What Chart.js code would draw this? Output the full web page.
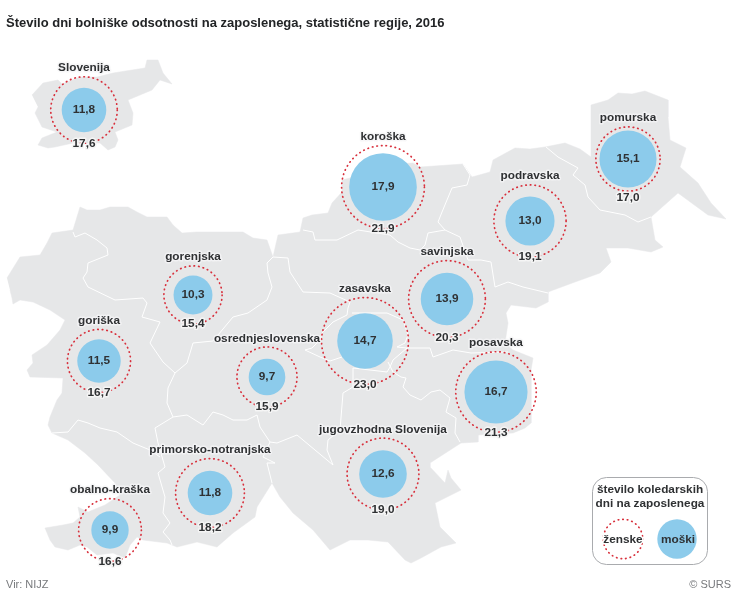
<!DOCTYPE html>
<html lang="sl">
<head>
<meta charset="utf-8">
<style>html,body{margin:0;padding:0;background:#fff}canvas{display:block}</style>
<script src="https://cdn.jsdelivr.net/npm/chart.js@4/dist/chart.umd.min.js"></script>
</head>
<body>
<canvas id="c" width="736" height="599"></canvas>
<script>
const titleText = 'Število dni bolniške odsotnosti na zaposlenega, statistične regije, 2016';
const regions = ['Slovenija','koroška','pomurska','podravska','savinjska','zasavska','posavska','jugovzhodna Slovenija','gorenjska','goriška','osrednjeslovenska','primorsko-notranjska','obalno-kraška'];
const menDays   = [11.8,17.9,15.1,13.0,13.9,14.7,16.7,12.6,10.3,11.5,9.7,11.8,9.9];
const womenDays = [17.6,21.9,17.0,19.1,20.3,23.0,21.3,19.0,15.4,16.7,15.9,18.2,16.6];
const regionX = [84,383,628,530,447,365,496,383,193,99,267,210,110];
const regionY = [110,187,159,221,299,341,392,474,295,361,377,493,530];
const sourceText = 'Vir: NIJZ';
const creditText = '© SURS';
const legendTitle = ['število koledarskih','dni na zaposlenega'];
const legendWomen = 'ženske';
const legendMen = 'moški';

const insetMap = [[32,95],[43,83],[58,80],[62,84],[80,77],[97,77],[113,73],[132,70],[145,68],[147,60],[158,60],[163,73],[172,84],[160,80],[152,90],[128,100],[133,113],[132,125],[115,132],[118,140],[115,147],[108,150],[100,143],[73,143],[55,147],[48,148],[38,145],[42,138],[57,132],[42,127],[35,113],[38,107]];
const mainMap = [[7,278],[20,257],[40,255],[47,243],[52,233],[73,230],[80,207],[87,210],[100,210],[110,207],[128,207],[137,212],[147,217],[167,217],[173,225],[182,233],[197,232],[213,232],[243,232],[253,238],[267,240],[273,257],[278,235],[300,232],[303,218],[312,215],[328,213],[332,203],[342,192],[342,180],[350,178],[380,165],[413,163],[420,167],[463,164],[472,177],[490,172],[493,160],[515,148],[530,149],[545,147],[565,143],[580,149],[591,157],[591,127],[591,105],[608,100],[618,93],[632,94],[645,91],[668,100],[668,117],[670,140],[686,148],[680,167],[698,183],[711,203],[726,219],[708,215],[678,193],[651,217],[655,240],[663,247],[651,252],[628,248],[606,248],[611,262],[600,273],[575,282],[548,292],[548,302],[536,308],[511,305],[506,313],[508,323],[505,343],[513,350],[533,358],[531,370],[531,423],[525,428],[513,433],[478,435],[478,442],[461,443],[430,463],[430,467],[445,483],[448,470],[451,478],[461,490],[435,503],[440,527],[456,543],[441,547],[421,558],[411,563],[405,560],[388,542],[368,540],[350,540],[330,550],[313,530],[293,513],[280,497],[272,483],[257,507],[255,517],[233,533],[217,547],[197,542],[177,547],[167,543],[143,540],[137,537],[130,545],[125,558],[113,553],[97,555],[87,547],[80,545],[68,550],[55,547],[50,540],[45,528],[63,525],[73,523],[80,517],[78,507],[88,512],[105,505],[120,495],[115,483],[98,465],[85,453],[68,440],[52,433],[48,425],[50,417],[57,400],[62,393],[63,378],[30,377],[27,370],[33,363],[32,355],[47,345],[60,330],[65,320],[50,310],[33,302],[20,300],[13,304],[12,298],[10,290]];
const borderLines = [
 [[73,232],[75,237],[85,233],[97,240],[107,248],[108,255],[88,263],[87,272],[83,278],[88,287],[115,300],[143,298],[147,303],[142,317],[160,322],[150,343],[163,362],[175,373],[168,388],[167,403],[173,417],[155,428],[158,443],[165,467],[158,473],[165,497],[163,513],[170,523],[163,532],[170,540],[172,545]],
 [[52,433],[68,432],[78,420],[88,423],[100,428],[117,432],[133,443],[150,450],[160,457]],
 [[175,373],[187,363],[193,343],[213,341],[233,317],[248,313],[267,300],[272,287],[268,273],[267,263],[273,257]],
 [[173,417],[187,415],[203,425],[213,412],[223,415],[233,420],[247,420],[257,415],[260,427],[270,442],[263,457],[275,463],[267,463],[272,483]],
 [[270,442],[277,443],[297,435],[333,465],[327,450],[328,440],[340,430],[343,393],[353,387],[353,368],[387,372],[390,367],[393,360],[407,348]],
 [[350,302],[348,308],[347,315],[333,322],[322,333],[320,340],[312,348],[305,350],[320,357],[330,361],[342,357]],
 [[352,313],[387,313],[403,320],[408,335],[405,343],[397,347],[407,348],[430,348],[433,357],[453,350],[471,353],[508,352]],
 [[273,257],[288,258],[290,272],[303,292],[330,293],[350,302]],
 [[303,230],[313,232],[315,240],[337,240],[358,230],[390,235],[398,242],[410,248],[420,250],[425,245],[428,233],[445,230],[438,222],[442,212],[452,188],[467,185],[470,175],[463,164]],
 [[445,230],[460,237],[468,260],[481,260],[491,262],[495,287],[508,282],[523,287],[548,293]],
 [[546,147],[558,157],[578,168],[573,175],[585,185],[588,197],[600,210],[625,215],[638,222],[651,217]],
 [[388,362],[393,372],[401,377],[406,378],[403,387],[410,395],[421,400],[431,392],[440,390],[450,398],[446,412],[456,418],[455,433],[460,442]]
];

const RADIUS_PER_DAY = 1.89;
const WOMEN_LABEL_SHIFT = {2: 7};
const MAP_GREY = '#e6e7e8', BLUE = '#8ccbeb', RED = '#d8303c', INK = '#2f3133';
const FONT = '"Liberation Sans", Arial, sans-serif';
const DOTS = [0.5,4.1];

const toPts = a => a.map(p => ({x:p[0], y:p[1]}));
const shapeDs = (a, label) => ({type:'line', label, data:toPts(a), fill:'shape', backgroundColor:MAP_GREY, borderColor:MAP_GREY, borderWidth:0.5, pointRadius:0, tension:0, clip:false, order:10});
const lineDs = (a, i) => ({type:'line', label:'meja '+i, data:toPts(a), fill:false, borderColor:'#ffffff', borderWidth:1, pointRadius:0, tension:0, clip:false, order:9});
const bubbles = vals => vals.map((v,i) => ({x:regionX[i], y:regionY[i], r:v*RADIUS_PER_DAY}));

const dashPlugin = {
  id:'dotted',
  beforeDatasetDraw(chart, args){
    if (chart.data.datasets[args.index].dotted){ chart.ctx.setLineDash(DOTS); chart.ctx.lineCap='round'; }
  },
  afterDatasetDraw(chart){ chart.ctx.setLineDash([]); chart.ctx.lineCap='butt'; }
};
function label(ctx, t, x, y, halo){
  if (halo){ ctx.lineWidth=3; ctx.lineJoin='round'; ctx.strokeStyle=halo; ctx.strokeText(t,x,y); }
  ctx.fillStyle=INK; ctx.fillText(t,x,y);
}
const textPlugin = {
  id:'texts',
  afterDatasetsDraw(chart){
    const ctx=chart.ctx, sx=chart.scales.x, sy=chart.scales.y;
    const fmt=v=>v.toFixed(1).replace('.',',');
    ctx.save();
    ctx.textAlign='center'; ctx.textBaseline='middle';
    ctx.font='bold 11.8px '+FONT;
    regions.forEach((name,i)=>{
      const x=sx.getPixelForValue(regionX[i]), y=sy.getPixelForValue(regionY[i]);
      const rw=womenDays[i]*RADIUS_PER_DAY;
      label(ctx,name,x,y-rw-8.7,'rgba(245,245,246,.8)');
      label(ctx,fmt(womenDays[i]),x,y+rw+(WOMEN_LABEL_SHIFT[i]||0),'rgba(245,245,246,.95)');
      label(ctx,fmt(menDays[i]),x,y);
    });
    // legend
    ctx.beginPath(); ctx.roundRect(592.5,477.5,115,87,14);
    ctx.strokeStyle='#a9abae'; ctx.lineWidth=1; ctx.stroke();
    ctx.beginPath(); ctx.arc(677,539,19.7,0,Math.PI*2); ctx.fillStyle=BLUE; ctx.fill();
    ctx.beginPath(); ctx.arc(623,539,19.7,0,Math.PI*2); ctx.strokeStyle=RED; ctx.lineWidth=1.7;
    ctx.setLineDash(DOTS); ctx.lineCap='round'; ctx.stroke(); ctx.setLineDash([]); ctx.lineCap='butt';
    label(ctx,legendTitle[0],650,489.5);
    label(ctx,legendTitle[1],650,504);
    label(ctx,legendWomen,623,539.5,'#ffffff');
    label(ctx,legendMen,678,539.5);
    // footer
    ctx.font='11px '+FONT; ctx.fillStyle='#77797c'; ctx.textBaseline='middle';
    ctx.textAlign='left'; ctx.fillText(sourceText,6,585);
    ctx.textAlign='right'; ctx.fillText(creditText,731,584.5);
    ctx.restore();
  }
};
new Chart(document.getElementById('c'), {
  type:'bubble',
  data:{datasets:[
    {label:'moški', data:bubbles(menDays), backgroundColor:BLUE, borderWidth:0, clip:false, order:1},
    {label:'ženske', data:bubbles(womenDays), backgroundColor:'transparent', borderColor:RED, borderWidth:1.7, dotted:true, clip:false, order:2},
    ...borderLines.map(lineDs),
    shapeDs(insetMap,'Slovenija (zemljevid)'),
    shapeDs(mainMap,'statistične regije (zemljevid)')
  ]},
  plugins:[dashPlugin,textPlugin],
  options:{
    responsive:false, animation:false, events:[],
    layout:{autoPadding:false,padding:{left:6,right:0,top:0,bottom:0}},
    scales:{
      x:{type:'linear',min:6,max:736,display:false},
      y:{type:'linear',min:32,max:599,reverse:true,display:false}
    },
    plugins:{
      legend:{display:false}, tooltip:{enabled:false},
      title:{display:true,text:titleText,align:'start',color:'#222426',
        font:{family:FONT,size:13,weight:'bold',lineHeight:1.2},
        padding:{top:15.2,bottom:1.2}}
    }
  }
});
</script>
</body>
</html>
